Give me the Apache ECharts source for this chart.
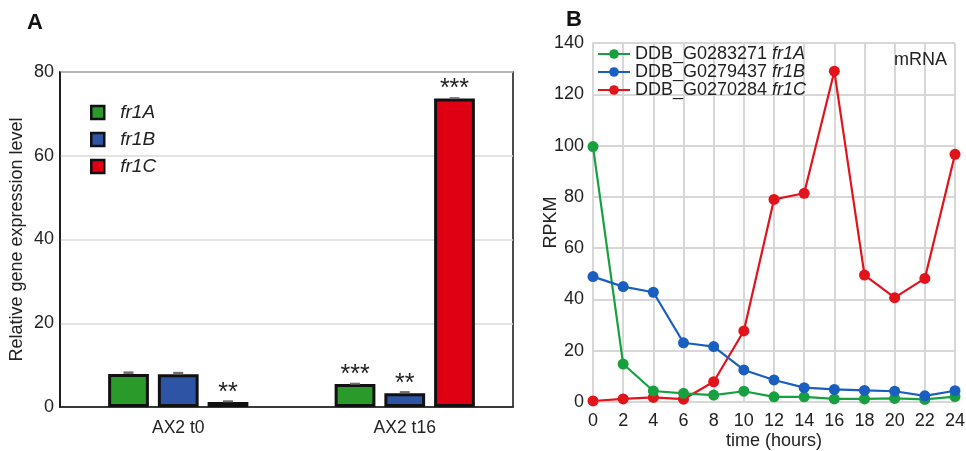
<!DOCTYPE html>
<html><head><meta charset="utf-8">
<script src="https://cdn.jsdelivr.net/npm/echarts@6/dist/echarts.min.js"></script>
<style>html,body{margin:0;padding:0;background:#fff}#c{width:966px;height:451px}</style>
</head><body><div id="c"></div>
<script>
// Panel A data
const groups = ['AX2 t0', 'AX2 t16'];
const genesA = ['fr1A', 'fr1B', 'fr1C'];
const relA = [7.9, 5.5];
const relB = [7.8, 3.3];
const relC = [1.2, 73.7];
const errA = [0.6, 0.3];
const errB = [0.6, 0.5];
const errC = [0.4, 0.3];
const sigA = ['', '***'];
const sigB = ['', '**'];
const sigC = ['**', '***'];
const yTicksA = [0, 20, 40, 60, 80];

// Panel B data
const hours = [0, 2, 4, 6, 8, 10, 12, 14, 16, 18, 20, 22, 24];
const ids = ['DDB_G0283271', 'DDB_G0279437', 'DDB_G0270284'];
const rpkmA = [99.6, 14.8, 4.3, 3.4, 2.7, 4.2, 2.0, 2.0, 1.2, 1.2, 1.4, 1.0, 2.1];
const rpkmB = [48.9, 45.0, 42.8, 23.1, 21.6, 12.5, 8.6, 5.6, 4.9, 4.5, 4.2, 2.4, 4.4];
const rpkmC = [0.4, 1.2, 1.8, 1.1, 7.9, 27.7, 79.0, 81.4, 129.0, 49.5, 40.7, 48.2, 96.6];

const barCols = ['#2a9b2a', '#2e54a5', '#df0014'];
const lineCols = ['#17a03f', '#1a5fbf', '#e3131b'];
const FONT = '"Liberation Sans", Arial, sans-serif';

const relVals = [relA, relB, relC];
const errVals = [errA, errB, errC];
const sigVals = [sigA, sigB, sigC];
const BW = 0.18, GAP = 0.22;

const barSeries = genesA.map((g, i) => ({
  name: g, type: 'bar', xAxisIndex: 2, yAxisIndex: 2,
  data: relVals[i], barWidth: (BW * 100) + '%', barGap: (GAP * 100) + '%',
  itemStyle: { color: barCols[i], borderColor: '#111', borderWidth: 3 },
  label: { show: true, position: 'top', distance: -1,
    formatter: p => sigVals[i][p.dataIndex],
    fontFamily: FONT, fontSize: 25, lineHeight: 20, color: '#222' },
  z: 2
}));

const errData = [];
genesA.forEach((g, i) => groups.forEach((c, j) => errData.push([j, relVals[i][j], errVals[i][j], i])));

const errSeries = {
  type: 'custom', xAxisIndex: 2, yAxisIndex: 2, z: 5, silent: true,
  data: errData,
  renderItem: (params, api) => {
    const cat = api.value(0), v = api.value(1), e = api.value(2), si = api.value(3);
    const top = api.coord([cat, v + e]);
    const base = api.coord([cat, v]);
    const band = api.size([1, 0])[0];
    const w = band * BW;
    const cx = top[0] + (si - 1) * w * (1 + GAP);
    return { type: 'rect', shape: { x: cx - 5, y: top[1], width: 10, height: Math.max(2, base[1] - top[1]) },
      style: { fill: '#6e6e6e' } };
  }
};

const lineData = [rpkmA, rpkmB, rpkmC];
const lineSeries = ids.map((id, i) => ({
  name: id + ' ' + genesA[i], type: 'line', xAxisIndex: 1, yAxisIndex: 1,
  data: hours.map((h, k) => [h, lineData[i][k]]),
  symbol: 'circle', symbolSize: 11,
  lineStyle: { width: 2.2, color: lineCols[i] },
  itemStyle: { color: lineCols[i] },
  z: 3 + (i === 2 ? 0 : 1)
}));

const gridLine = { show: true, lineStyle: { color: '#d7d7d7', width: 2 } };

const option = {
  animation: false,
  textStyle: { fontFamily: FONT },
  title: [
    { text: 'A', left: 22, top: 7, textStyle: { fontFamily: FONT, fontSize: 22, fontWeight: 'bold', color: '#111' } },
    { text: 'B', left: 561, top: 4, textStyle: { fontFamily: FONT, fontSize: 22, fontWeight: 'bold', color: '#111' } },
    { text: 'mRNA', left: 889, top: 46, textStyle: { fontFamily: FONT, fontSize: 18, fontWeight: 'normal', color: '#222' } }
  ],
  legend: [
    { data: genesA, orient: 'vertical', left: 90, top: 103, padding: 0, itemWidth: 13, itemHeight: 13, itemGap: 8,
      icon: 'rect',
      itemStyle: { borderColor: '#111', borderWidth: 2.5 },
      textStyle: { fontFamily: FONT, fontSize: 19, fontStyle: 'italic', color: '#222', padding: [0, 0, 0, 11] } },
    { data: lineSeries.map(s => s.name), orient: 'vertical', left: 597, top: 45, padding: 0, itemWidth: 32, itemHeight: 12, itemGap: 0,
      formatter: n => { const p = n.split(' '); return '{a|' + p[0] + ' }{b|' + p[1] + '}'; },
      textStyle: { fontFamily: FONT, fontSize: 18, color: '#222', padding: [0, 0, 0, 0],
        rich: { a: { fontFamily: FONT, fontSize: 18, lineHeight: 18, color: '#222' }, b: { fontFamily: FONT, fontSize: 18, lineHeight: 18, fontStyle: 'italic', color: '#222' } } } }
  ],
  grid: [
    { left: 60, right: 453, top: 72, bottom: 44, show: true, borderColor: '#111', borderWidth: 1.5, backgroundColor: 'transparent', containLabel: false, outerBoundsMode: 'none' },
    { left: 593, right: 11, top: 43, bottom: 49, containLabel: false, outerBoundsMode: 'none' },
    { left: 65, right: 448, top: 72, bottom: 44, containLabel: false, outerBoundsMode: 'none' }
  ],
  xAxis: [
    { type: 'category', gridIndex: 0, data: groups,
      axisLine: { lineStyle: { color: '#111', width: 1.5 } }, axisTick: { show: false },
      axisLabel: { show: false } },
    { type: 'value', gridIndex: 1, min: 0, max: 24, interval: 2,
      name: 'time (hours)', nameLocation: 'middle', nameGap: 30, nameMoveOverlap: false,
      nameTextStyle: { fontSize: 18, color: '#222' },
      axisLine: { show: true, lineStyle: { color: '#d7d7d7', width: 2 } }, axisTick: { show: false },
      axisLabel: { fontSize: 18, color: '#222', margin: 10 },
      splitLine: gridLine },
    { type: 'category', gridIndex: 2, data: groups,
      axisLine: { show: false }, axisTick: { show: false },
      axisLabel: { fontSize: 17.5, color: '#222', margin: 12 } }
  ],
  yAxis: [
    { type: 'value', gridIndex: 0, min: yTicksA[0], max: yTicksA[yTicksA.length - 1], interval: 20,
      name: 'Relative gene expression level', nameLocation: 'middle', nameGap: 34, nameMoveOverlap: false,
      nameTextStyle: { fontSize: 18, color: '#222' },
      axisLine: { show: true, lineStyle: { color: '#111', width: 1.5 } }, axisTick: { show: false },
      axisLabel: { fontSize: 18, color: '#222', margin: 6 },
      splitLine: { show: true, lineStyle: { color: '#dadada', width: 1.5 } } },
    { type: 'value', gridIndex: 1, min: 0, max: 140, interval: 20,
      name: 'RPKM', nameLocation: 'middle', nameGap: 33, nameMoveOverlap: false,
      nameTextStyle: { fontSize: 18, color: '#222' },
      axisLine: { show: true, lineStyle: { color: '#d7d7d7', width: 2 } }, axisTick: { show: false },
      axisLabel: { fontSize: 18, color: '#222', margin: 9 },
      splitLine: gridLine },
    { type: 'value', gridIndex: 2, min: yTicksA[0], max: yTicksA[yTicksA.length - 1], interval: 20,
      show: false, splitLine: { show: false } }
  ],
  series: [...barSeries, errSeries, ...lineSeries]
};

const chart = echarts.init(document.getElementById('c'), null, { renderer: 'canvas' });
chart.setOption(option);
</script>
</body></html>
